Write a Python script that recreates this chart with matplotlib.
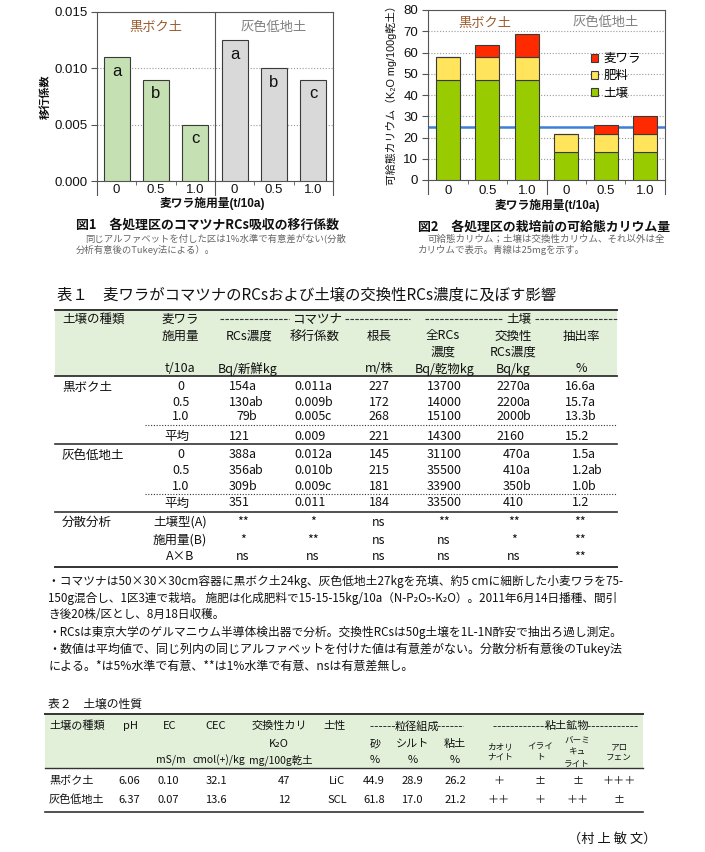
import re
import matplotlib
matplotlib.use('Agg')
import matplotlib.pyplot as plt
from matplotlib.patches import Rectangle
from matplotlib.ticker import FormatStrFormatter, FixedLocator

# ---------------- data ----------------
soil_types = ['黒ボク土', '灰色低地土']
straw_rates = ['0', '0.5', '1.0']

# Fig.1 transfer factor
tf_values = [0.011, 0.009, 0.005, 0.0125, 0.010, 0.009]
tf_letters = ['a', 'b', 'c', 'a', 'b', 'c']

# Fig.2 available potassium (K2O mg/100g dry soil)
k_series = ['麦ワラ', '肥料', '土壌']
k_soil = [47, 47, 47, 13, 13, 13]
k_fert = [11, 11, 11, 8.6, 8.6, 8.6]
k_straw = [0, 5.3, 10.9, 0, 4.3, 8.4]
k_reference = 25

fig1_caption = '図1　各処理区のコマツナRCs吸収の移行係数'
fig1_note = ['同じアルファベットを付した区は1%水準で有意差がない(分散',
             '分析有意後のTukey法による）。']
fig2_caption = '図2　各処理区の栽培前の可給態カリウム量'
fig2_note = ['可給態カリウム；土壌は交換性カリウム、それ以外は全',
             'カリウムで表示。青線は25mgを示す。']

# Table 1
t1_title = '表１　麦ワラがコマツナのRCsおよび土壌の交換性RCs濃度に及ぼす影響'
t1_rate_labels = ['0', '0.5', '1.0', '平均']
t1_kuroboku = [['154a', '0.011a', '227', '13700', '2270a', '16.6a'],
               ['130ab', '0.009b', '172', '14000', '2200a', '15.7a'],
               ['79b', '0.005c', '268', '15100', '2000b', '13.3b'],
               ['121', '0.009', '221', '14300', '2160', '15.2']]
t1_gray = [['388a', '0.012a', '145', '31100', '470a', '1.5a'],
           ['356ab', '0.010b', '215', '35500', '410a', '1.2ab'],
           ['309b', '0.009c', '181', '33900', '350b', '1.0b'],
           ['351', '0.011', '184', '33500', '410', '1.2']]
t1_anova_label = '分散分析'
t1_anova_rows = ['土壌型(A)', '施用量(B)', 'A×B']
t1_anova = [['**', '*', 'ns', '**', '**', '**'],
            ['*', '**', 'ns', 'ns', '*', '**'],
            ['ns', 'ns', 'ns', 'ns', 'ns', '**']]
t1_notes = [
    '・コマツナは50×30×30cm容器に黒ボク土24kg、灰色低地土27kgを充填、約5 cmに細断した小麦ワラを75-',
    '150g混合し、1区3連で栽培。 施肥は化成肥料で15-15-15kg/10a（N-P₂O₅-K₂O）。2011年6月14日播種、間引',
    'き後20株/区とし、8月18日収穫。',
    '・RCsは東京大学のゲルマニウム半導体検出器で分析。交換性RCsは50g土壌を1L-1N酢安で抽出ろ過し測定。',
    '・数値は平均値で、同じ列内の同じアルファベットを付けた値は有意差がない。分散分析有意後のTukey法',
    'による。*は5%水準で有意、**は1%水準で有意、nsは有意差無し。',
]
t1_note_full = [True, True, False, True, True, False]

# Table 2
t2_title = '表２　土壌の性質'
t2_ph = ['6.06', '6.37']
t2_ec = ['0.10', '0.07']
t2_cec = ['32.1', '13.6']
t2_k2o = ['47', '12']
t2_texture = ['LiC', 'SCL']
t2_sand = ['44.9', '61.8']
t2_silt = ['28.9', '17.0']
t2_clay = ['26.2', '21.2']
t2_kaolinite = ['＋', '＋＋']
t2_illite = ['±', '＋']
t2_vermiculite = ['±', '＋＋']
t2_allophane = ['＋＋＋', '±']
author = '（村 上 敏 文）'

# ---------------- figure ----------------
W, H = 705, 852
fig = plt.figure(figsize=(W / 100, H / 100), dpi=100)
CJK = ['Noto Sans CJK JP', 'DejaVu Sans']
LAT = ['Liberation Sans', 'Noto Sans CJK JP', 'DejaVu Sans']
plt.rcParams['font.family'] = LAT
renderer = fig.canvas.get_renderer()

ov = fig.add_axes([0, 0, 1, 1])
ov.set_xlim(0, W)
ov.set_ylim(H, 0)
ov.axis('off')
ov.patch.set_alpha(0)


def px_axes(left, top, right, bottom):
    return [left / W, 1 - bottom / H, (right - left) / W, (bottom - top) / H]


def txt(x, y, s, ha='center', fs=9, family=CJK, color='#111111', **kw):
    return ov.text(x, y, s, ha=ha, va='center', fontsize=fs, family=family, color=color, **kw)


def fit_txt(x, y, s, width, fs0, **kw):
    t = txt(x, y, s, ha='left', fs=fs0, **kw)
    w = t.get_window_extent(renderer).width
    fs = fs0 * width / w
    t.set_fontsize(fs)
    return fs


SP = '#555555'
xpos = list(range(len(tf_values)))
group_of = [i // len(straw_rates) for i in xpos]


def style_axes(ax, label_pad):
    for s in ax.spines.values():
        s.set_color(SP)
        s.set_linewidth(0.8)
    ax.set_xlim(-0.5, len(xpos) - 0.5)
    ax.set_xticks(xpos, labels=straw_rates * len(soil_types))
    ax.tick_params(axis='x', length=0, pad=label_pad, labelsize=9.5, colors='#111111')
    ax.xaxis.set_minor_locator(FixedLocator([0.5, 1.5, 3.5, 4.5]))
    ax.tick_params(axis='x', which='minor', length=3, direction='out', color=SP)
    ax.tick_params(axis='y', length=4, direction='out', color=SP, labelsize=9.5, pad=3,
                   colors='#111111')
    ax.yaxis.grid(True, linestyle=(0, (1, 1.6)), color='#9a9a9a', linewidth=0.8, zorder=0)
    ax.set_axisbelow(True)
    tr = ax.get_xaxis_transform()
    for xs in [-0.5, 2.5, 5.5]:
        ax.plot([xs, xs], [0, -0.085], transform=tr, color=SP, lw=0.8, clip_on=False)


# ---- Figure 1 ----
ax1 = fig.add_axes(px_axes(97, 12, 333, 181))
c1 = ['#C5E0B3', '#D9D9D9']
ax1.bar(xpos, tf_values, width=0.66, color=[c1[g] for g in group_of],
        edgecolor='#3a3a3a', linewidth=0.8, zorder=3)
ax1.set_ylim(0, 0.015)
ax1.set_yticks([0, 0.005, 0.010, 0.015])
ax1.yaxis.set_major_formatter(FormatStrFormatter('%.3f'))
style_axes(ax1, 2.5)
ax1.axvline(2.5, color=SP, lw=0.8, zorder=4)
for i, (v, l) in enumerate(zip(tf_values, tf_letters)):
    ax1.text(i, v - 0.00125, l, ha='center', va='center', fontsize=12, color='#111111', zorder=5)
ax1.text(1, 0.0136, soil_types[0], ha='center', va='center', fontsize=9.5,
         color='#9B5B2E', family=CJK)
ax1.text(4, 0.0136, soil_types[1], ha='center', va='center', fontsize=9.5,
         color='#7f7f7f', family=CJK)
txt(45, 97, '移行係数', fs=8, rotation=90, fontweight='bold')
txt(212, 203, '麦ワラ施用量(t/10a)', fs=8.5, family=LAT, fontweight='bold')
txt(76, 225, fig1_caption, ha='left', fs=9.3, fontweight='bold')
fs_n1 = fit_txt(85, 239, fig1_note[0], 262, 7, color='#666666')
txt(76, 250, fig1_note[1], ha='left', fs=fs_n1, color='#666666')

# ---- Figure 2 ----
ax2 = fig.add_axes(px_axes(428, 10, 665, 180))
bw = 0.62
ec = dict(edgecolor='#3a3a3a', linewidth=0.8, zorder=3)
b_soil = ax2.bar(xpos, k_soil, bw, color='#99CC00', **ec)
b_fert = ax2.bar(xpos, k_fert, bw, bottom=k_soil, color='#FFE45C', **ec)
base = [s + f for s, f in zip(k_soil, k_fert)]
b_straw = ax2.bar(xpos, k_straw, bw, bottom=base, color='#FF2A00', **ec)
ax2.axhline(k_reference, color='#3D7FD9', lw=1.8, zorder=2)
ax2.set_ylim(0, 80)
ax2.set_yticks(range(0, 81, 10))
style_axes(ax2, 3.5)
ax2.text(0.95, 73.9, soil_types[0], ha='center', va='center', fontsize=9.5,
         color='#9B5B2E', family=CJK)
ax2.text(4, 73.9, soil_types[1], ha='center', va='center', fontsize=9.5,
         color='#7f7f7f', family=CJK)
ax2.legend([b_straw, b_fert, b_soil], k_series, loc='upper left',
           bbox_to_anchor=(0.66, 0.79), frameon=False,
           handlelength=0.6, handleheight=0.6, handletextpad=0.4,
           labelspacing=0.32, borderpad=0, prop={'family': CJK, 'size': 9})
txt(391, 93, '可給態カリウム（K₂O mg/100g乾土）', fs=7.8, rotation=90, family=LAT)
txt(547, 205, '麦ワラ施用量(t/10a)', fs=8.5, family=LAT, fontweight='bold')
txt(418, 227, fig2_caption, ha='left', fs=9.3, fontweight='bold')
fs_n2 = fit_txt(428, 239, fig2_note[0], 237, 7, color='#666666')
txt(418, 250, fig2_note[1], ha='left', fs=fs_n2, color='#666666')

# ---- Table 1 ----
HDR = '#E2EFD9'
LN = '#333333'
fit_txt(57, 295, t1_title, 501, 10.5)
L1, R1 = 55, 617
ov.add_patch(Rectangle((L1, 310), R1 - L1, 66, facecolor=HDR, edgecolor='none', zorder=0))
ov.plot([L1, R1], [310, 310], color=LN, lw=1.4)
ov.plot([L1, R1], [376, 376], color=LN, lw=1.3)
DASH = (0, (3.2, 1.2))
txt(62, 319, '土壌の種類', ha='left')
txt(180, 319, '麦ワラ')
txt(317, 319, 'コマツナ')
ov.plot([220, 289], [319, 319], color=LN, lw=0.8, ls=DASH)
ov.plot([345, 410], [319, 319], color=LN, lw=0.8, ls=DASH)
txt(519, 319, '土壌')
ov.plot([425, 503], [319, 319], color=LN, lw=0.8, ls=DASH)
ov.plot([535, R1], [319, 319], color=LN, lw=0.8, ls=DASH)
for xh, s in zip([180, 249, 315, 379, 443, 513, 581],
                 ['施用量', 'RCs濃度', '移行係数', '根長', '全RCs', '交換性', '抽出率']):
    txt(xh, 336, s)
txt(443, 352, '濃度')
txt(513, 352, 'RCs濃度')
for xh, s in zip([180, 248, 379, 445, 513, 581],
                 ['t/10a', 'Bq/新鮮kg', 'm/株', 'Bq/乾物kg', 'Bq/kg', '%']):
    txt(xh, 369, s)

col_anchor = [250, 326, 379, 444, 524, 589]
col_center = [243, 313, 379, 444, 514, 580]
col_split = [True, True, False, False, True, True]


def cell(j, y, s):
    m = re.match(r'^([\d.]+)([a-z]*)$', s)
    if col_split[j] and m:
        txt(col_anchor[j], y, m.group(1), ha='right')
        if m.group(2):
            txt(col_anchor[j] - 1.5, y, m.group(2), ha='left')
    else:
        txt(col_center[j], y, s)


def block(label, rows, ys):
    txt(62, ys[0], label, ha='left')
    for r, (rl, row, y) in enumerate(zip(t1_rate_labels, rows, ys)):
        txt(181 if r < 3 else 177, y, rl)
        for j, s in enumerate(row):
            cell(j, y, s)


block(soil_types[0], t1_kuroboku, [387, 402, 417, 436])
ov.plot([145, R1], [425, 425], color=LN, lw=0.8, ls=(0, (1, 1.5)))
ov.plot([L1, R1], [444, 444], color=LN, lw=1.2)
block(soil_types[1], t1_gray, [455, 471, 486, 503])
ov.plot([145, R1], [494, 494], color=LN, lw=0.8, ls=(0, (1, 1.5)))
ov.plot([L1, R1], [512, 512], color=LN, lw=1.2)
txt(62, 522, t1_anova_label, ha='left')
for rl, row, y in zip(t1_anova_rows, t1_anova, [522, 540, 557]):
    txt(180, y, rl)
    for j, s in enumerate(row):
        txt(col_center[j], y, s)
ov.plot([L1, R1], [567, 567], color=LN, lw=1.4)

fs_note = 8.5
for k, (line, full) in enumerate(zip(t1_notes, t1_note_full)):
    if full:
        fs_note = fit_txt(48, 581 + 17 * k, line, 571, 8.5)
    else:
        txt(48, 581 + 17 * k, line, ha='left', fs=fs_note)

# ---- Table 2 ----
txt(48, 704, t2_title, ha='left', fs=8.5)
L2, R2 = 45, 643
ov.add_patch(Rectangle((L2, 714), R2 - L2, 54, facecolor=HDR, edgecolor='none', zorder=0))
ov.plot([L2, R2], [714, 714], color=LN, lw=1.4)
ov.plot([L2, R2], [768, 768], color=LN, lw=1.0)
ov.plot([L2, R2], [812, 812], color=LN, lw=1.2)
F2 = 8
txt(49, 726, '土壌の種類', ha='left', fs=F2)
for xh, s in zip([130, 170, 216, 279, 335], ['pH', 'EC', 'CEC', '交換性カリ', '土性']):
    txt(xh, 726, s, fs=F2)
txt(417, 726, '粒径組成', fs=F2)
ov.plot([370, 397], [726, 726], color=LN, lw=0.7, ls=DASH)
ov.plot([437, 463], [726, 726], color=LN, lw=0.7, ls=DASH)
txt(567, 726, '粘土鉱物', fs=F2)
ov.plot([493, 547], [726, 726], color=LN, lw=0.7, ls=DASH)
ov.plot([587, 638], [726, 726], color=LN, lw=0.7, ls=DASH)
txt(279, 744, 'K₂O', fs=F2)
for xh, s in zip([375, 413, 455], ['砂', 'シルト', '粘土']):
    txt(xh, 744, s, fs=F2)
    txt(xh, 760, '%', fs=F2)
for xh, s in zip([171, 219, 281], ['mS/m', 'cmol(+)/kg', 'mg/100g乾土']):
    txt(xh, 760, s, fs=F2 - 0.5)
FM = 6.2
txt(500, 747, 'カオリ', fs=FM)
txt(500, 757, 'ナイト', fs=FM)
txt(540, 747, 'イライ', fs=FM)
txt(540, 757, 'ト', fs=FM)
txt(577, 740, 'バーミ', fs=FM)
txt(577, 752, 'キュ', fs=FM)
txt(577, 764, 'ライト', fs=FM)
txt(619, 747, 'アロ', fs=FM)
txt(619, 757, 'フェン', fs=FM)

t2_cols = [(129, t2_ph), (168, t2_ec), (216, t2_cec), (284, t2_k2o), (337, t2_texture),
           (374, t2_sand), (412, t2_silt), (455, t2_clay), (499, t2_kaolinite),
           (540, t2_illite), (578, t2_vermiculite), (619, t2_allophane)]
for i, y in enumerate([781, 800]):
    txt(49, y, soil_types[i], ha='left', fs=F2)
    for xc, vals in t2_cols:
        txt(xc, y, vals[i], fs=F2)

txt(657, 839, author, ha='right', fs=9.5)

fig.savefig('out.png', dpi=100)
